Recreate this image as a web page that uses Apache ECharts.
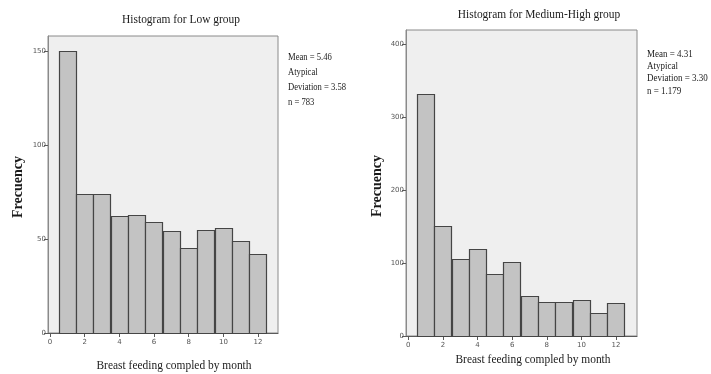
<!DOCTYPE html>
<html>
<head>
<meta charset="utf-8">
<script src="https://cdn.jsdelivr.net/npm/echarts@6/dist/echarts.min.js"></script>
<style>
html,body{margin:0;padding:0;background:#fff;}
#c{width:711px;height:374px;}
</style>
</head>
<body>
<div id="c"></div>
<script>
// ---- data ----
const months = [1,2,3,4,5,6,7,8,9,10,11,12];
const lowCounts = [150,74,74,62,63,59,54,45,55,56,49,42];
const medHighCounts = [332,151,106,120,85,102,55,46,46,49,32,45];
const xTicks = [0,2,4,6,8,10,12];
const lowYTicks = [0,50,100,150];
const medYTicks = [0,100,200,300,400];
const lowTitle = 'Histogram for Low group';
const medTitle = 'Histogram for Medium-High group';
const xName = 'Breast feeding compled by month';
const yName = 'Frecuency';
const lowStats = ['Mean = 5.46','Atypical','Deviation = 3.58','n = 783'];
const medStats = ['Mean = 4.31','Atypical','Deviation = 3.30','n = 1.179'];

const chart = echarts.init(document.getElementById('c'), null, {renderer:'canvas'});

function histItem(params, api){
  const x = api.value(0), y = api.value(1);
  const p0 = api.coord([x - 0.5, y]);
  const p1 = api.coord([x + 0.5, 0]);
  return {
    type:'rect',
    shape:{x:Math.round(p0[0])+0.5, y:Math.round(p0[1])+0.5, width:Math.round(p1[0]-p0[0]), height:Math.round(p1[1]-p0[1])},
    style:{fill:'#c3c3c3', stroke:'#454545', lineWidth:1.2}
  };
}

function xAxisCfg(gi, min, max){
  return {
    type:'value', gridIndex:gi, min:min, max:max,
    axisLine:{show:true, onZero:false, lineStyle:{color:'#5a5a5a', width:1.2}},
    axisTick:{show:true, customValues:xTicks, length:4, lineStyle:{color:'#5a5a5a'}},
    axisLabel:{show:true, customValues:xTicks, fontSize:7, color:'#555', margin:6, fontFamily:'DejaVu Sans'},
    splitLine:{show:false}
  };
}
function yAxisCfg(gi, max, ticks){
  return {
    type:'value', gridIndex:gi, min:0, max:max,
    axisLine:{show:true, onZero:false, lineStyle:{color:'#8a8a8a', width:1}},
    axisTick:{show:true, customValues:ticks, length:4, lineStyle:{color:'#5a5a5a'}},
    axisLabel:{show:true, customValues:ticks, fontSize:7, color:'#555', margin:2, fontFamily:'DejaVu Sans'},
    splitLine:{show:false}
  };
}

const serif = 'Liberation Serif';
function txt(x, y, s, size, opts){
  opts = opts || {};
  return {
    type:'text', x:x, y:y, scaleX: opts.scaleX || 1, rotation: opts.rotation || 0,
    style:{text:s, fontFamily:serif, fontSize:size, fontWeight: opts.bold ? 'bold' : 'normal',
      fill:'#1a1a1a', textAlign: opts.align || 'left', textVerticalAlign:'middle'}
  };
}
const graphics = [];
graphics.push(txt(181, 20, lowTitle, 13, {align:'center', scaleX:0.88}));
graphics.push(txt(539, 15, medTitle, 13, {align:'center', scaleX:0.88}));
graphics.push(txt(174, 366, xName, 13, {align:'center', scaleX:0.88}));
graphics.push(txt(533, 360, xName, 13, {align:'center', scaleX:0.88}));
graphics.push(txt(18, 187, yName, 14, {align:'center', bold:true, rotation:Math.PI/2}));
graphics.push(txt(377, 186, yName, 14, {align:'center', bold:true, rotation:Math.PI/2}));
lowStats.forEach((s,i)=>graphics.push(txt(288, 57.5 + i*14.8, s, 10, {scaleX:0.86})));
medStats.forEach((s,i)=>graphics.push(txt(647, 54 + i*12.3, s, 10, {scaleX:0.9})));

const option = {
  backgroundColor:'#ffffff',
  animation:false,
  grid:[
    {left:48, top:36, width:230, height:297, show:true, backgroundColor:'#efefef', borderColor:'#8a8a8a', borderWidth:1},
    {left:406, top:30, width:231, height:306, show:true, backgroundColor:'#efefef', borderColor:'#8a8a8a', borderWidth:1}
  ],
  xAxis:[ xAxisCfg(0, -0.12, 13.15), xAxisCfg(1, -0.13, 13.21) ],
  yAxis:[ yAxisCfg(0, 158, lowYTicks), yAxisCfg(1, 420, medYTicks) ],
  series:[
    {type:'custom', xAxisIndex:0, yAxisIndex:0, renderItem:histItem, data:months.map((m,i)=>[m, lowCounts[i]])},
    {type:'custom', xAxisIndex:1, yAxisIndex:1, renderItem:histItem, data:months.map((m,i)=>[m, medHighCounts[i]])}
  ],
  graphic:graphics
};
chart.setOption(option);
</script>
</body>
</html>
